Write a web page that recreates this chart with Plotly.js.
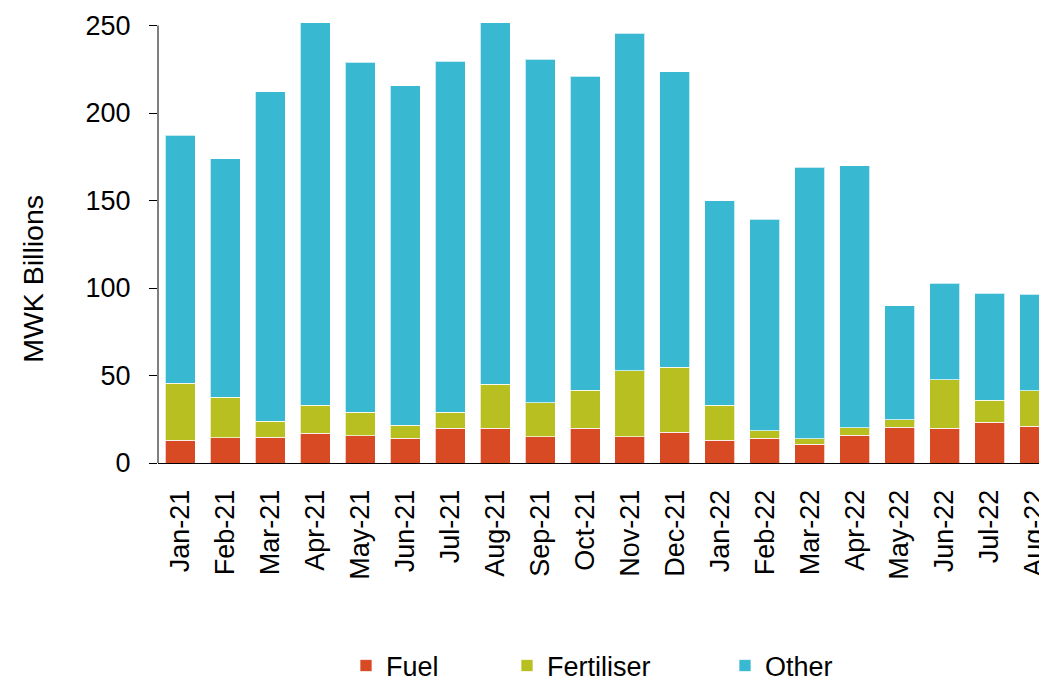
<!DOCTYPE html>
<html>
<head>
<meta charset="utf-8">
<script src="https://cdn.plot.ly/plotly-3.0.1.min.js"></script>
<style>
html, body { margin: 0; padding: 0; background: #fff; overflow: hidden; width: 1039px; height: 681px; }
#chart { width: 1060px; height: 681px; }
</style>
</head>
<body>
<div id="chart"></div>
<script>
const months = ["Jan-21","Feb-21","Mar-21","Apr-21","May-21","Jun-21","Jul-21","Aug-21","Sep-21","Oct-21","Nov-21","Dec-21","Jan-22","Feb-22","Mar-22","Apr-22","May-22","Jun-22","Jul-22","Aug-22"];
const fuel = [13.1,14.3,14.6,17.1,15.6,14.1,19.8,19.8,15.0,19.8,15.0,17.7,12.9,14.1,10.6,16.0,20.3,19.8,23.4,21.1];
const fertiliser = [32.6,23.4,9.4,16.0,13.3,7.6,9.1,25.3,19.3,21.9,37.7,36.9,20.2,4.4,3.3,4.2,4.3,27.8,12.4,20.2];
const other = [141.7,136.3,188.1,218.4,200.2,194.0,200.8,206.4,196.5,179.2,192.9,169.1,116.7,120.9,155.2,149.6,65.3,55.2,61.1,55.2];
const yTicks = [0,50,100,150,200,250];

const FONT = "Liberation Sans, Arial, sans-serif";
const edge = {color: "rgba(255,255,255,0.7)", width: 1};

const traces = [
  {type: "bar", name: "Fuel", x: months, y: fuel, marker: {color: "#D84A24", line: edge}, legend: "legend"},
  {type: "bar", name: "Fertiliser", x: months, y: fertiliser, marker: {color: "#B8BF20", line: edge}, legend: "legend2"},
  {type: "bar", name: "Other", x: months, y: other, marker: {color: "#38B9D1", line: edge}, legend: "legend3"}
];

const W = 1060, H = 681;
const legBase = {orientation: "h", xref: "container", yref: "container", yanchor: "middle", xanchor: "left",
  y: 1 - 666 / H,
  font: {family: FONT, size: 27, color: "#000"}, bgcolor: "rgba(0,0,0,0)", borderwidth: 0};

const layout = {
  width: W, height: H,
  margin: {l: 157.5, r: 2.5, t: 22.2, b: 217.7, autoexpand: false},
  paper_bgcolor: "#fff", plot_bgcolor: "#fff",
  barmode: "stack", bargap: 0.333,
  font: {family: FONT, size: 27, color: "#000"},
  xaxis: {
    type: "category", range: [-0.5, 19.5], fixedrange: true,
    showline: true, linecolor: "#000", linewidth: 1,
    ticks: "", tickangle: -90, ticklabelstandoff: 15,
    tickfont: {family: FONT, size: 27, color: "#000"},
    showgrid: false, zeroline: false, automargin: false
  },
  yaxis: {
    range: [0, 252], tickvals: yTicks, ticktext: yTicks.map(String),
    showline: false, ticks: "outside", ticklen: 8, tickwidth: 1, tickcolor: "#000",
    ticklabelstandoff: 13,
    tickfont: {family: FONT, size: 27, color: "#000"},
    showgrid: false, zeroline: false, automargin: false
  },
  shapes: [
    {type: "line", xref: "paper", yref: "y", x0: 0, x1: 0, y0: 0, y1: 250, line: {color: "#000", width: 1}}
  ],
  annotations: [
    {text: "MWK Billions", xref: "paper", yref: "paper", x: -0.1389, y: 0.418, textangle: -90,
     showarrow: false, xanchor: "center", yanchor: "middle", font: {family: FONT, size: 28.5, color: "#000"}}
  ],
  showlegend: true,
  legend: Object.assign({}, legBase, {x: 346 / W}),
  legend2: Object.assign({}, legBase, {x: 507 / W}),
  legend3: Object.assign({}, legBase, {x: 725 / W})
};

Plotly.newPlot("chart", traces, layout, {displayModeBar: false, staticPlot: true});
</script>
</body>
</html>
